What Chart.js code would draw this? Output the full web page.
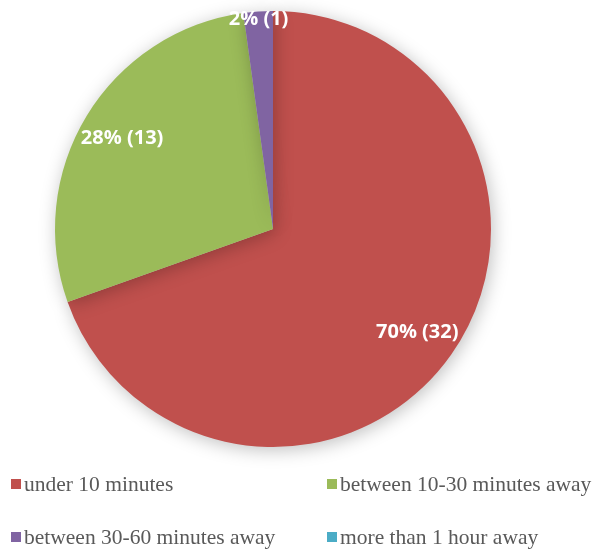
<!DOCTYPE html>
<html>
<head>
<meta charset="utf-8">
<script src="https://cdn.jsdelivr.net/npm/chart.js@4.4.1/dist/chart.umd.min.js"></script>
<style>
  html, body { margin: 0; padding: 0; background: #ffffff; }
  #wrap { width: 594px; height: 552px; position: relative; }
</style>
</head>
<body>
<div id="wrap"><canvas id="chart" width="594" height="552"></canvas></div>
<script>
const labels = ["under 10 minutes", "between 10-30 minutes away", "between 30-60 minutes away", "more than 1 hour away"];
const counts = [32, 13, 1, 0];
const percents = ["70%", "28%", "2%", "0%"];
const colors = ["#C0504D", "#9BBB59", "#8064A2", "#4BACC6"];

// soft shadow under the pie
const shadowPlugin = {
  id: "pieShadow",
  beforeDatasetsDraw(chart) {
    const ctx = chart.ctx;
    ctx.save();
    ctx.shadowColor = "rgba(0,0,0,0.25)";
    ctx.shadowBlur = 18;
    ctx.shadowOffsetX = 2;
    ctx.shadowOffsetY = 3;
  },
  afterDatasetsDraw(chart) {
    chart.ctx.restore();
  }
};

// labels inside the slices
const sliceLabels = {
  id: "sliceLabels",
  afterDatasetsDraw(chart) {
    const ctx = chart.ctx;
    const meta = chart.getDatasetMeta(0);
    const total = counts.reduce((a, b) => a + b, 0);
    ctx.save();
    ctx.font = "bold 20px 'Open Sans'";
    ctx.fillStyle = "#ffffff";
    ctx.textAlign = "center";
    ctx.textBaseline = "middle";
    meta.data.forEach((arc, i) => {
      if (!counts[i]) return;
      const p = arc.getProps(["x", "y", "startAngle", "endAngle", "outerRadius"], true);
      const mid = (p.startAngle + p.endAngle) / 2;
      const f = counts[i] / total < 0.05 ? 0.97 : 0.81;
      const r = p.outerRadius * f;
      ctx.fillText(percents[i] + " (" + counts[i] + ")", p.x + Math.cos(mid) * r, p.y + Math.sin(mid) * r + 1);
    });
    ctx.restore();
  }
};

// two-column legend below the pie
const gridLegend = {
  id: "gridLegend",
  afterDraw(chart) {
    const ctx = chart.ctx;
    const colX = [11, 327];
    const rowY = [484, 537];
    ctx.save();
    ctx.font = "21.5px 'Liberation Serif'";
    ctx.textBaseline = "middle";
    labels.forEach((lab, i) => {
      const x = colX[i % 2];
      const y = rowY[Math.floor(i / 2)];
      ctx.fillStyle = colors[i];
      ctx.fillRect(x, y - 5, 10, 10);
      ctx.fillStyle = "#595959";
      ctx.fillText(lab, x + 13, y + 1);
    });
    ctx.restore();
  }
};

new Chart(document.getElementById("chart"), {
  type: "pie",
  data: {
    labels: labels,
    datasets: [{
      data: counts,
      backgroundColor: colors,
      borderWidth: 0
    }]
  },
  options: {
    responsive: false,
    animation: false,
    layout: { padding: { left: 55, top: 11, right: 103, bottom: 105 } },
    plugins: {
      legend: { display: false },
      tooltip: { enabled: false }
    }
  },
  plugins: [shadowPlugin, sliceLabels, gridLegend]
});
</script>
</body>
</html>
